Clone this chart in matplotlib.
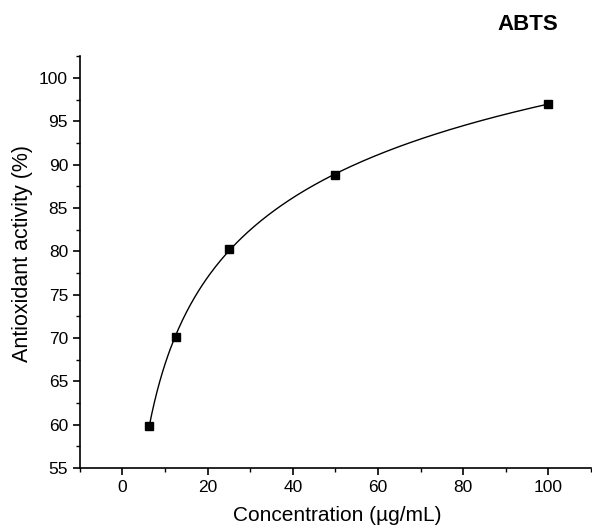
import numpy as np
import matplotlib.pyplot as plt
from matplotlib.ticker import MultipleLocator

plt.rcParams['font.family'] = ['Liberation Sans', 'DejaVu Sans']

# measured points
conc = [6.25, 12.5, 25, 50, 100]
activity = [59.8, 70.1, 80.3, 88.8, 97.0]

x_ticks = [0, 20, 40, 60, 80, 100]
y_ticks = [55, 60, 65, 70, 75, 80, 85, 90, 95, 100]

# smooth fit line through the data (quadratic in ln x)
coef = np.polyfit(np.log(conc), activity, 2)
xs = np.linspace(min(conc), max(conc), 300)
ys = np.polyval(coef, np.log(xs))

fig = plt.figure(figsize=(5.92, 5.30), dpi=100)
ax = fig.add_axes([0.135, 0.117, 0.863, 0.777])

ax.plot(xs, ys, color='black', lw=1.0)
ax.plot(conc, activity, 's', color='black', markersize=6)

ax.set_xlim(-10, 110)
ax.set_ylim(55, 102.5)
ax.set_xticks(x_ticks)
ax.set_yticks(y_ticks)
ax.xaxis.set_minor_locator(MultipleLocator(10))
ax.yaxis.set_minor_locator(MultipleLocator(2.5))
ax.tick_params(which='major', direction='out', length=5, width=1.2, labelsize=12.5)
ax.tick_params(which='minor', direction='out', length=3, width=1.0)

for s in ['top', 'right']:
    ax.spines[s].set_visible(False)
for s in ['left', 'bottom']:
    ax.spines[s].set_linewidth(1.2)

ax.set_xlabel('Concentration (µg/mL)', fontsize=15, va='center')
ax.xaxis.set_label_coords(0.503, -0.115)
ax.set_ylabel('Antioxidant activity (%)', fontsize=15.5, va='center')
ax.yaxis.set_label_coords(-0.113, 0.52)
fig.text(0.892, 0.953, 'ABTS', fontsize=16, fontweight='bold', ha='center', va='center')

fig.savefig('out.png', dpi=100)
